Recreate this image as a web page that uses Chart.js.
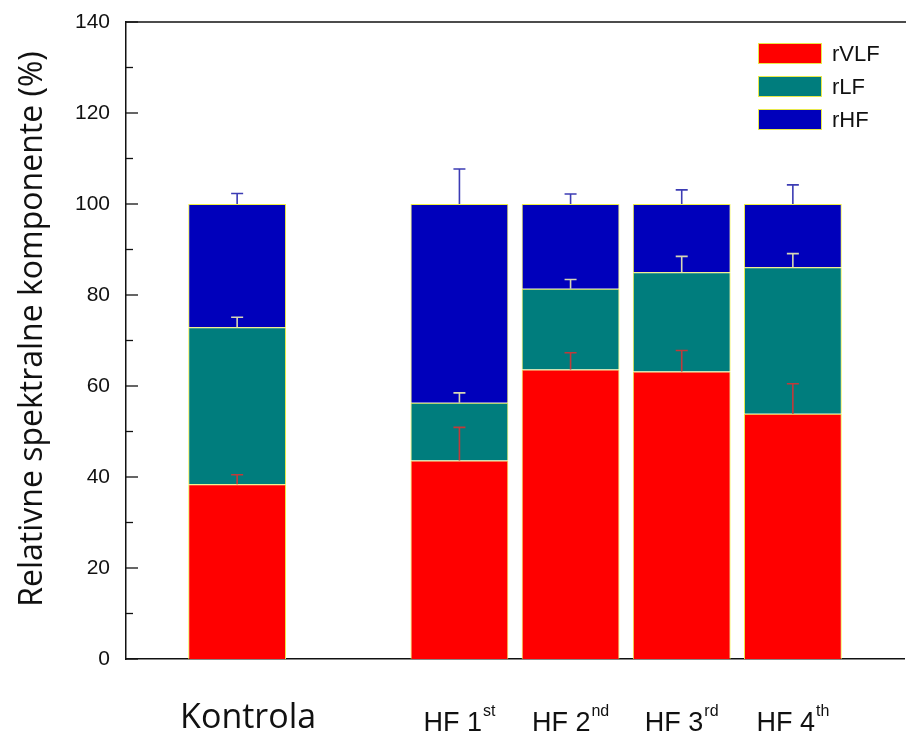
<!DOCTYPE html>
<html>
<head>
<meta charset="utf-8">
<script src="https://cdn.jsdelivr.net/npm/chart.js@4.4.1/dist/chart.umd.min.js"></script>
<style>
  html, body { margin: 0; padding: 0; background: #ffffff; }
  #wrap { width: 906px; height: 734px; position: relative; }
</style>
</head>
<body>
<div id="wrap"><canvas id="chart" width="906" height="734"></canvas></div>
<script>
// Group slots along the x axis (empty strings keep the gap after the control group)
const categories = ["", "Kontrola", "", "HF 1st", "HF 2nd", "HF 3rd", "HF 4th", ""];

// Relative spectral components (%), stacked
const rVLF = [null, 38.4, null, 43.6, 63.6, 63.2, 53.9, null];
const rLF  = [null, 34.5, null, 12.7, 17.8, 21.8, 32.2, null];
const rHF  = [null, 27.1, null, 43.7, 18.6, 15.0, 13.9, null];

// Standard deviations shown as upward error bars on each segment
const errVLF = [null, 2.1, null, 7.3, 3.7, 4.6, 6.6, null];
const errLF  = [null, 2.2, null, 2.2, 2.0, 3.5, 3.0, null];
const errHF  = [null, 2.3, null, 7.7, 2.2, 3.1, 4.2, null];

const yTicks = [0, 20, 40, 60, 80, 100, 120, 140];

const errorSets = [errVLF, errLF, errHF];
const errorColors = ["#c03a3a", "#d6d6b4", "#3c3cb4"];

const frameAndTicks = {
  id: "frameAndTicks",
  afterDraw(chart) {
    const ctx = chart.ctx;
    const area = chart.chartArea;
    const y = chart.scales.y;
    ctx.save();
    ctx.strokeStyle = "#111";
    ctx.lineWidth = 1.5;
    // top frame line
    ctx.beginPath();
    ctx.moveTo(area.left, area.top);
    ctx.lineTo(chart.width, area.top);
    ctx.stroke();
    // inward ticks on the y axis: major every 20, minor in between
    ctx.lineWidth = 1.3;
    for (let v = y.min; v <= y.max; v += 10) {
      const py = y.getPixelForValue(v);
      const len = (v % 20 === 0) ? 12 : 7;
      ctx.beginPath();
      ctx.moveTo(area.left, py);
      ctx.lineTo(area.left + len, py);
      ctx.stroke();
    }
    ctx.restore();
  }
};

const errorBars = {
  id: "errorBars",
  afterDatasetsDraw(chart) {
    const ctx = chart.ctx;
    const y = chart.scales.y;
    ctx.save();
    ctx.lineWidth = 1.6;
    chart.data.datasets.forEach((ds, d) => {
      const meta = chart.getDatasetMeta(d);
      const errs = errorSets[d];
      meta.data.forEach((bar, i) => {
        if (ds.data[i] == null || errs[i] == null) return;
        let top = 0;
        for (let k = 0; k <= d; k++) top += chart.data.datasets[k].data[i];
        const y0 = y.getPixelForValue(top);
        const y1 = y.getPixelForValue(top + errs[i]);
        ctx.strokeStyle = errorColors[d];
        ctx.beginPath();
        ctx.moveTo(bar.x, y0);
        ctx.lineTo(bar.x, y1);
        ctx.moveTo(bar.x - 6, y1);
        ctx.lineTo(bar.x + 6, y1);
        ctx.stroke();
      });
    });
    ctx.restore();
  }
};

const labelsAndLegend = {
  id: "labelsAndLegend",
  afterDraw(chart) {
    const ctx = chart.ctx;
    const x = chart.scales.x;
    ctx.save();
    ctx.fillStyle = "#111";

    // x category labels with ordinal superscripts
    categories.forEach((lab, i) => {
      if (!lab) return;
      const px = x.getPixelForTick(i);
      const m = lab.match(/^(.*\d)(st|nd|rd|th)$/);
      ctx.textBaseline = "alphabetic";
      if (m) {
        ctx.font = "27px 'Liberation Sans', Arial, sans-serif";
        const wMain = ctx.measureText(m[1]).width;
        ctx.font = "16px 'Liberation Sans', Arial, sans-serif";
        const wSup = ctx.measureText(m[2]).width;
        const left = px - (wMain + 1 + wSup) / 2;
        ctx.font = "27px 'Liberation Sans', Arial, sans-serif";
        ctx.textAlign = "left";
        ctx.fillText(m[1], left, 731);
        ctx.font = "16px 'Liberation Sans', Arial, sans-serif";
        ctx.fillText(m[2], left + wMain + 1, 716);
      } else {
        ctx.font = "34px 'Open Sans', sans-serif";
        ctx.textAlign = "center";
        ctx.fillText(lab, px + 11, 728);
      }
    });

    // y axis title
    ctx.save();
    ctx.translate(42, 329);
    ctx.rotate(-Math.PI / 2);
    ctx.font = "32px 'Open Sans', sans-serif";
    ctx.textAlign = "center";
    ctx.textBaseline = "alphabetic";
    ctx.fillText("Relativne spektralne komponente (%)", 0, 0);
    ctx.restore();

    // legend
    const lx = 758, ly = 43, sw = 64, sh = 21, gap = 33;
    chart.data.datasets.forEach((ds, d) => {
      const top = ly + d * gap;
      ctx.fillStyle = ds.backgroundColor;
      ctx.fillRect(lx, top, sw, sh);
      ctx.strokeStyle = "#e8e84a";
      ctx.lineWidth = 1;
      ctx.strokeRect(lx + 0.5, top + 0.5, sw - 1, sh - 1);
      ctx.fillStyle = "#111";
      ctx.font = "22px 'Liberation Sans', Arial, sans-serif";
      ctx.textAlign = "left";
      ctx.textBaseline = "middle";
      ctx.fillText(ds.label, lx + 74, top + sh / 2 + 1);
    });
    ctx.restore();
  }
};

new Chart(document.getElementById("chart"), {
  type: "bar",
  data: {
    labels: categories,
    datasets: [
      { label: "rVLF", data: rVLF, backgroundColor: "#ff0000", borderColor: "#f0f040", borderWidth: 1 },
      { label: "rLF",  data: rLF,  backgroundColor: "#007d7d", borderColor: "#f0f040", borderWidth: 1 },
      { label: "rHF",  data: rHF,  backgroundColor: "#0000bb", borderColor: "#f0f040", borderWidth: 1 }
    ]
  },
  options: {
    responsive: false,
    animation: false,
    devicePixelRatio: 1,
    layout: { padding: { left: 0, top: 22, right: 2, bottom: 0 } },
    datasets: { bar: { categoryPercentage: 1.0, barPercentage: 0.88 } },
    plugins: { legend: { display: false }, tooltip: { enabled: false } },
    scales: {
      x: {
        stacked: true,
        offset: false,
        grid: { display: false, drawTicks: false },
        border: { display: true, color: "#111", width: 1.5 },
        ticks: { display: false },
        afterFit(scale) { scale.height = 75; scale.paddingLeft = 0; scale.paddingRight = 0; }
      },
      y: {
        stacked: true,
        min: 0,
        max: 140,
        grid: { display: false, drawTicks: false },
        border: { display: true, color: "#111", width: 1.5 },
        afterBuildTicks(scale) { scale.ticks = yTicks.map(v => ({ value: v })); },
        ticks: {
          padding: 16,
          color: "#111",
          font: { family: "'Liberation Sans', Arial, sans-serif", size: 21 }
        },
        afterFit(scale) { scale.width = 126; scale.paddingTop = 0; scale.paddingBottom = 0; }
      }
    }
  },
  plugins: [frameAndTicks, errorBars, labelsAndLegend]
});
</script>
</body>
</html>
